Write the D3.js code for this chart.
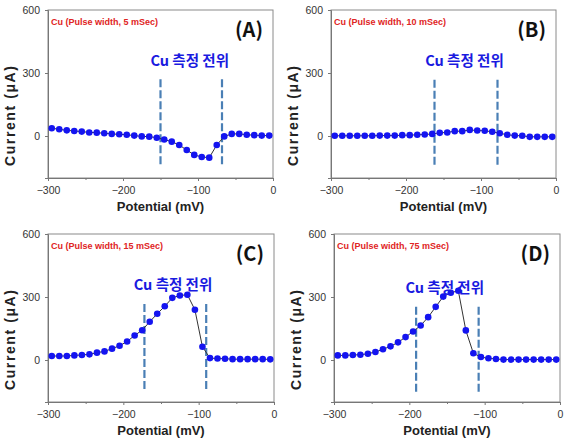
<!DOCTYPE html>
<html><head><meta charset="utf-8">
<script src="https://cdn.jsdelivr.net/npm/d3@7"></script>
<style>body{margin:0;background:#fff}svg{display:block}</style>
</head><body>
<svg id="c" width="576" height="448"></svg>
<script>
// ---- data ----
const potential = [-295,-285,-275,-265,-255,-245,-235,-225,-215,-205,-195,-185,-175,-165,-155,-145,-135,-125,-115,-105,-95,-85,-75,-65,-55,-45,-35,-25,-15,-5];
const currentA = [37,32,27,24,21,17,16,13,10,8,6,2,-2,-3,-8,-17,-27,-43,-67,-90,-100,-103,-43,-2,10,10,6,4,2,2];
const currentB = [1,1,1,1,1,1,2,2,2,4,4,6,7,10,15,17,23,23,29,26,25,20,13,6,2,1,-4,-4,-4,-4];
const currentC = [19,19,19,22,24,27,35,41,54,68,88,117,142,182,220,256,296,307,311,239,63,9,7,6,4,4,4,4,4,3];
const currentD = [22,22,24,25,30,38,51,65,84,109,136,164,204,253,302,320,330,141,32,14,8,5,2,2,2,2,2,2,2,2];
const panelLetters = ["(A)","(B)","(C)","(D)"];
const pulseLabels = ["Cu (Pulse width, 5 mSec)","Cu (Pulse width, 10 mSec)","Cu (Pulse width, 15 mSec)","Cu (Pulse width, 75 mSec)"];
const windowLo = [-150,-162,-172,-191];
const windowHi = [-68,-78,-90,-108];
const windowTop = [270,268,267,253];
const windowBottom = [-145,-145,-150,-165];
const annotText = "Cu 측정 전위";
const annotX = [-111,-122,-134,-153];
const annotY = [333,333,332,320];
const xTicks = [-300,-200,-100,0];
const xMinor = [-250,-150,-50];
const yTicks = [0,300,600];
const xTitle = "Potential (mV)";
const yTitle = "Current (\u03BCA)";

const series = [currentA,currentB,currentC,currentD];
const boxes = [
  {l:48,r:273,t:10,b:178},
  {l:331,r:556,t:10,b:178},
  {l:48,r:274,t:234,b:402},
  {l:334,r:560,t:234,b:402}
];

const svg = d3.select("#c");
const latin = "'Liberation Sans', Arial, sans-serif";
const kr = "'Noto Sans CJK KR', 'Noto Sans', sans-serif";

series.forEach((vals,i)=>{
  const bx = boxes[i];
  const x = d3.scaleLinear().domain([-300,0]).range([bx.l,bx.r]);
  const y = d3.scaleLinear().domain([-200,600]).range([bx.b,bx.t]);
  const g = svg.append("g");

  // frame
  g.append("rect").attr("x",bx.l).attr("y",bx.t).attr("width",bx.r-bx.l).attr("height",bx.b-bx.t)
    .attr("fill","none").attr("stroke","#8a8a8a").attr("stroke-width",1);

  // axes
  g.append("g").attr("transform",`translate(0,${bx.b})`)
    .call(d3.axisBottom(x).tickValues(xTicks).tickSize(3).tickPadding(6).tickFormat(d3.format("d")));
  g.append("g").attr("transform",`translate(0,${bx.b})`)
    .call(d3.axisBottom(x).tickValues(xMinor).tickSize(2).tickFormat(""))
    .select(".domain").remove();
  g.append("g").attr("transform",`translate(${bx.l},0)`)
    .call(d3.axisLeft(y).tickValues(yTicks).tickSize(3).tickPadding(5));
  g.selectAll(".domain").attr("stroke","#777");
  g.selectAll(".tick line").attr("stroke","#777");
  g.selectAll(".tick text").attr("font-family",latin).attr("font-size",10.5).attr("fill","#333");

  // dashed potential window
  [windowLo[i],windowHi[i]].forEach(v=>{
    g.append("line").attr("x1",x(v)).attr("x2",x(v)).attr("y1",y(windowTop[i])).attr("y2",y(windowBottom[i]))
      .attr("stroke","#4a7fb5").attr("stroke-width",2.2).attr("stroke-dasharray","8,3");
  });

  // line + markers
  const pts = potential.map((p,k)=>[p,vals[k]]);
  g.append("path").datum(pts)
    .attr("d",d3.line().x(d=>x(d[0])).y(d=>y(d[1])))
    .attr("fill","none").attr("stroke","#333").attr("stroke-width",1);
  g.selectAll("circle").data(pts).join("circle")
    .attr("cx",d=>x(d[0])).attr("cy",d=>y(d[1])).attr("r",3.3).attr("fill","#1414f0");

  // annotation
  g.append("text").attr("x",x(annotX[i])).attr("y",y(annotY[i])).attr("text-anchor","middle")
    .attr("font-family",kr).attr("font-weight","bold").attr("font-size",14.5).attr("fill","#1a1ae0")
    .text(annotText);

  // pulse label
  g.append("text").attr("x",bx.l+3).attr("y",bx.t+15)
    .attr("font-family",latin).attr("font-weight","bold").attr("font-size",9).attr("fill","#e02424")
    .text(pulseLabels[i]);

  // panel letter
  g.append("text").attr("x",bx.r-10).attr("y",bx.t+27).attr("text-anchor","end")
    .attr("font-family",kr).attr("font-weight","bold").attr("font-size",20).attr("fill","#111")
    .text(panelLetters[i]);

  // axis titles
  g.append("text").attr("x",(bx.l+bx.r)/2).attr("y",bx.b+33).attr("text-anchor","middle")
    .attr("font-family",latin).attr("font-weight","bold").attr("font-size",13).attr("fill","#222")
    .text(xTitle);
  g.append("text").attr("transform",`translate(${bx.l-33},${bx.t+106}) rotate(-90)`)
    .attr("text-anchor","middle")
    .attr("font-family",latin).attr("font-weight","bold").attr("font-size",14).attr("fill","#222")
    .attr("textLength",100).attr("lengthAdjust","spacing")
    .text(yTitle);
});
</script>
</body></html>
